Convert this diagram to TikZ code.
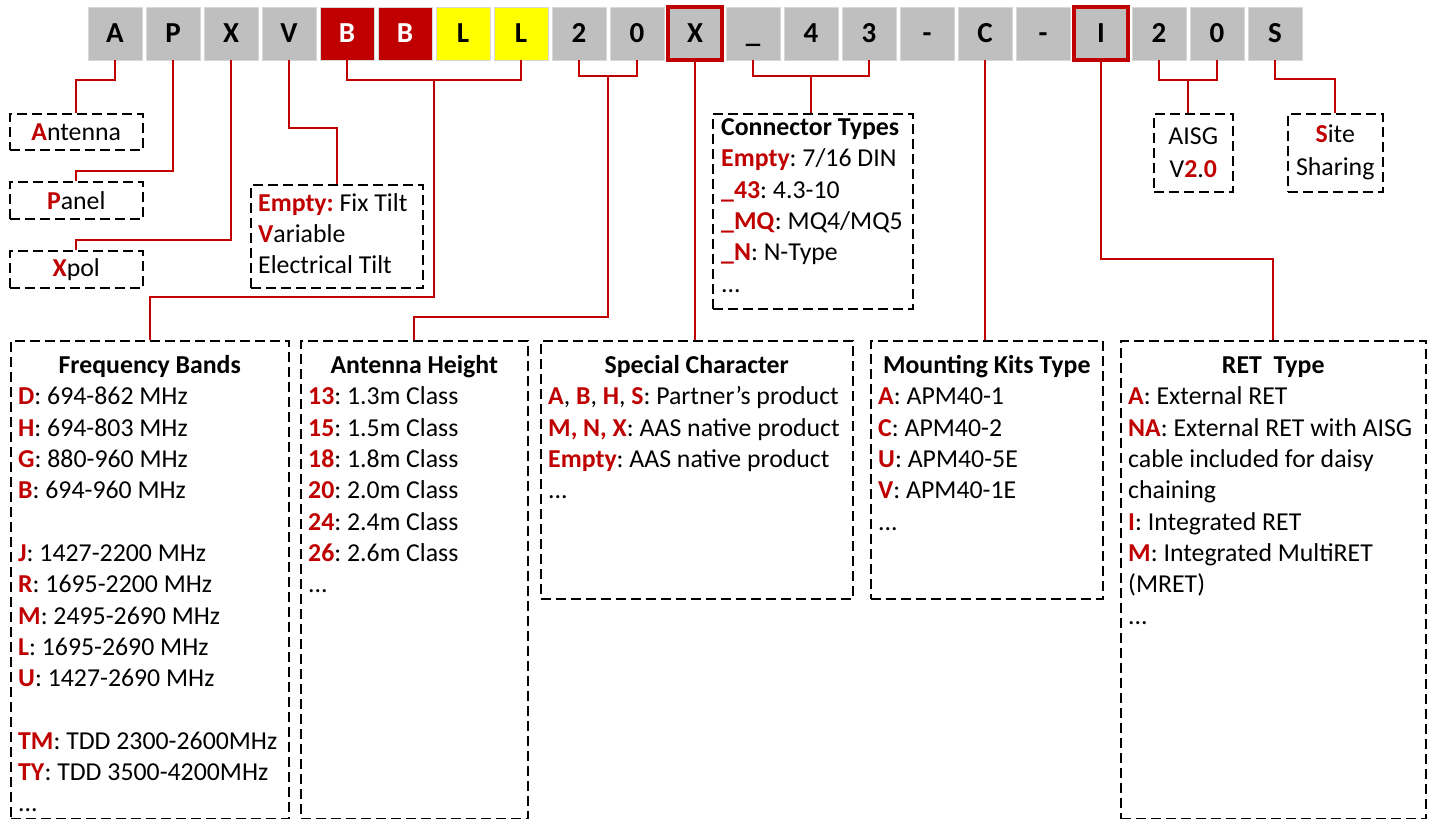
\documentclass[tikz,border=0pt]{standalone}
\usepackage{fontspec}
\setmainfont{Carlito}
\usetikzlibrary{calc}
\definecolor{cred}{HTML}{C00000}
\definecolor{tgray}{HTML}{BFBFBF}
\definecolor{tyel}{HTML}{FFFF00}
\definecolor{tline}{HTML}{D9D9D9}
\newcommand{\rd}[1]{\textcolor{cred}{\textbf{#1}}}
\newcommand{\bodyfont}{\fontsize{25.8}{31.3}\selectfont\frenchspacing}
\tikzset{
  tile/.style={minimum width=54pt, minimum height=53pt, inner sep=0pt, fill=tgray, draw=tline, line width=0.8pt,
    text height=18.5pt, text depth=0pt, font=\fontsize{29}{30}\selectfont\bfseries},
  tileR/.style={tile, fill=cred, text=white},
  tileY/.style={tile, fill=tyel},
  tileH/.style={tile, draw=cred, line width=4.5pt},
  conn/.style={draw=cred, line width=2pt},
  box/.style={draw=black, line width=1.5pt, dash pattern=on 10pt off 5pt, inner sep=0pt, anchor=north west, font=\bodyfont},
  ttl/.style={anchor=base, inner sep=0pt, font=\bodyfont\bfseries},
  txt/.style={anchor=north west, inner sep=0pt, align=left, font=\bodyfont},
}
\begin{document}
\begin{tikzpicture}[x=1pt,y=-1pt]
\useasboundingbox (0,0) rectangle (1432,819);
% code tiles
\foreach \i/\c/\s in {1/A/tile,2/P/tile,3/X/tile,4/V/tile,5/B/tileR,6/B/tileR,7/L/tileY,8/L/tileY,9/2/tile,10/0/tile,11/X/tileH,12/\_/tile,13/4/tile,14/3/tile,15/-/tile,16/C/tile,17/-/tile,18/I/tileH,19/2/tile,20/0/tile,21/S/tile}
  \node[\s] (t\i) at ({115+58*(\i-1)},33.5) {\c};

% small boxes
\node[box, minimum width=133pt, minimum height=36pt] (bA) at (9,113) {\rd{A}ntenna};
\node[box, minimum width=133pt, minimum height=37pt] (bP) at (9,181) {\rd{P}anel};
\node[box, minimum width=133pt, minimum height=37pt] (bX) at (9,250) {\rd{X}pol};
\node[box, minimum width=172pt, minimum height=103pt] (bV) at (250,184) {};
\node[txt] (xV) at ($(bV.north west)+(8,5)$) {\strut\rd{Empty:} Fix Tilt\\\rd{V}ariable\\Electrical Tilt};
\node[box, minimum width=200pt, minimum height=195pt] (bC) at (712,113) {};
\node[txt] (xC) at ($(bC.north west)+(9,0.5)$) {\strut\textbf{Connector Types}\\\rd{Empty}: 7/16 DIN\\\rd{\_43}: 4.3-10\\\rd{\_MQ}: MQ4/MQ5\\\rd{\_N}: N-Type\\...};
\node[box, minimum width=79pt, minimum height=78pt, align=center, font=\fontsize{25.8}{33}\selectfont] (bAI) at (1153,113) {AISG\\V\rd{2}.\rd{0}};
\node[box, minimum width=95pt, minimum height=78pt, align=center, font=\fontsize{25.8}{33}\selectfont] (bSS) at (1287,113) {\rd{S}ite\\Sharing};

% large boxes
\node[box, minimum width=278pt, minimum height=478pt] (bF) at (10,340) {};
\node[ttl] (hF) at ($(bF.north)+(0,33.4)$) {Frequency Bands};
\node[txt] (xF) at ($(bF.north west)+(8,42.8)$) {\strut\rd{D}: 694-862 MHz\\\rd{H}: 694-803 MHz\\\rd{G}: 880-960 MHz\\\rd{B}: 694-960 MHz\\[31.3pt]\rd{J}: 1427-2200 MHz\\\rd{R}: 1695-2200 MHz\\\rd{M}: 2495-2690 MHz\\\rd{L}: 1695-2690 MHz\\\rd{U}: 1427-2690 MHz\\[31.3pt]\rd{TM}: TDD 2300-2600MHz\\\rd{TY}: TDD 3500-4200MHz\\...};

\node[box, minimum width=227pt, minimum height=478pt] (bH) at (300,340) {};
\node[ttl] (hH) at ($(bH.north)+(0,33.4)$) {Antenna Height};
\node[txt] (xH) at ($(bH.north west)+(8,42.8)$) {\strut\rd{13}: 1.3m Class\\\rd{15}: 1.5m Class\\\rd{18}: 1.8m Class\\\rd{20}: 2.0m Class\\\rd{24}: 2.4m Class\\\rd{26}: 2.6m Class\\...};

\node[box, minimum width=312pt, minimum height=258pt] (bS) at (540,340) {};
\node[ttl] (hS) at ($(bS.north)+(0,33.4)$) {Special Character};
\node[txt] (xS) at ($(bS.north west)+(8,42.8)$) {\strut\rd{A}, \rd{B}, \rd{H}, \rd{S}: Partner’s product\\\rd{M, N, X}: AAS native product\\\rd{Empty}: AAS native product\\...};

\node[box, minimum width=232pt, minimum height=258pt] (bM) at (870,340) {};
\node[ttl] (hM) at ($(bM.north)+(0,33.4)$) {Mounting Kits Type};
\node[txt] (xM) at ($(bM.north west)+(8,42.8)$) {\strut\rd{A}: APM40-1\\\rd{C}: APM40-2\\\rd{U}: APM40-5E\\\rd{V}: APM40-1E\\...};

\node[box, minimum width=305pt, minimum height=478pt] (bR) at (1120,340) {};
\node[ttl] (hR) at ($(bR.north)+(0,33.4)$) {RET~~Type};
\node[txt] (xR) at ($(bR.north west)+(8,42.8)$) {\strut\rd{A}: External RET\\\rd{NA}: External RET with AISG\\cable included for daisy\\chaining\\\rd{I}: Integrated RET\\\rd{M}: Integrated MultiRET\\(MRET)\\...};

% connectors
\draw[conn] (t1.south) -- ++(0,20) -| (bA.north);
\draw[conn] (t2.south) -- ++(0,111) -| (bP.north);
\draw[conn] (t3.south) -- ++(0,180) -| (bX.north);
\draw[conn] (t4.south) -- ++(0,68) -| (bV.north);
\draw[conn] (t5.south) -- ++(0,20) -| (t8.south);
\coordinate (j1) at ($(t5.south)!0.5!(t8.south)+(0,20)$);
\draw[conn] (j1) -- ++(0,217) -| (bF.north);
\draw[conn] (t9.south) -- ++(0,16) -| (t10.south);
\coordinate (j2) at ($(t9.south)!0.5!(t10.south)+(0,16)$);
\draw[conn] (j2) -- ++(0,241) -| (bH.north);
\draw[conn] (t11.south) -- (t11.south |- bS.north);
\draw[conn] (t12.south) -- ++(0,16) -| (t14.south);
\coordinate (j3) at ($(t12.south)!0.5!(t14.south)+(0,16)$);
\draw[conn] (j3) -- (j3 |- bC.north);
\draw[conn] (t16.south) -- (t16.south |- bM.north);
\draw[conn] (t18.south) -- ++(0,197) -| (bR.north);
\draw[conn] (t19.south) -- ++(0,20) -| (t20.south);
\coordinate (j4) at ($(t19.south)!0.5!(t20.south)+(0,20)$);
\draw[conn] (j4) -- (j4 |- bAI.north);
\draw[conn] (t21.south) -- ++(0,19) -| (bSS.north);
\end{tikzpicture}
\end{document}
